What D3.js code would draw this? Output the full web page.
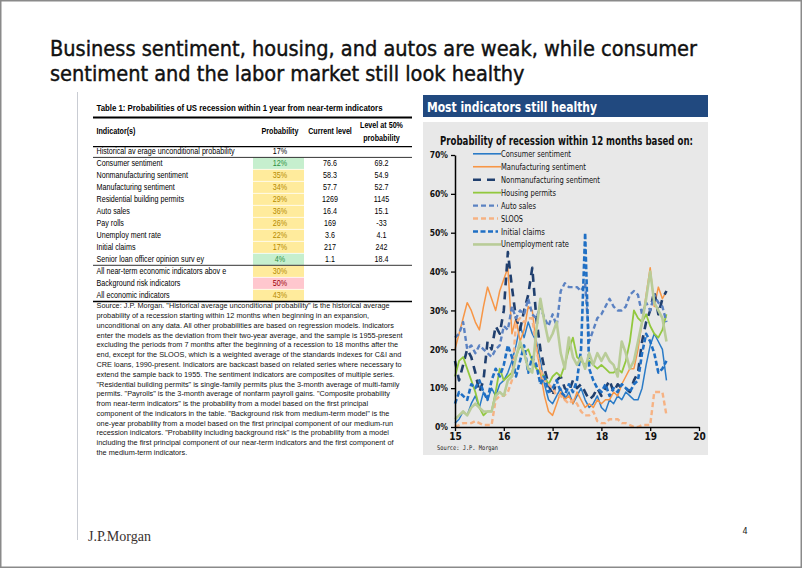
<!DOCTYPE html>
<html><head><meta charset="utf-8">
<script src="https://cdn.jsdelivr.net/npm/d3@7"></script>
<style>
html,body{margin:0;padding:0;background:#fff;}
svg{display:block;}
</style>
</head><body>
<svg id="c" width="802" height="568"></svg>
<script>
// ---------------- DATA ----------------
const slideTitle = ["Business sentiment, housing, and autos are weak, while consumer",
                    "sentiment and the labor market still look healthy"];
const tableTitle = "Table 1: Probabilities of US recession within 1 year from near-term indicators";
const tableHeaders = ["Indicator(s)", "Probability", "Current level", "Level at 50%", "probability"];
const historicalLabel = "Historical av erage unconditional probability";
const historicalProbability = 17;
const indicators = ["Consumer sentiment", "Nonmanufacturing sentiment", "Manufacturing sentiment",
  "Residential building permits", "Auto sales", "Pay rolls", "Unemploy ment rate", "Initial claims",
  "Senior loan officer opinion surv ey"];
const probabilities = [12, 35, 34, 29, 36, 26, 22, 17, 4];
const currentLevels = ["76.6", "58.3", "57.7", "1269", "16.4", "169", "3.6", "217", "1.1"];
const levelsAt50 = ["69.2", "54.9", "52.7", "1145", "15.1", "-33", "4.1", "242", "18.4"];
const summaryRows = ["All near-term economic indicators abov e", "Background risk indicators", "All economic indicators"];
const summaryProbabilities = [30, 50, 43];
const sourceNote = [
  "Source: J.P. Morgan. \"Historical average unconditional probability\" is the historical average",
  "probability of a recession starting within 12 months when beginning in an expansion,",
  "unconditional on any data. All other probabilities are based on regression models. Indicators",
  "enter the models as the deviation from their two-year average, and the sample is 1955-present",
  "excluding the periods from 7 months after the beginning of a recession to 18 months after the",
  "end, except for the SLOOS, which is a weighted average of the standards indexes for C&I and",
  "CRE loans, 1990-present. Indicators are backcast based on related series where necessary to",
  "extend the sample back to 1955. The sentiment indicators are composites of multiple series.",
  "\"Residential building permits\" is single-family permits plus the 3-month average of multi-family",
  "permits. \"Payrolls\" is the 3-month average of nonfarm payroll gains. \"Composite probability",
  "from near-term indicators\" is the probability from a model based on the first principal",
  "component of the indicators in the table. \"Background risk from medium-term model\" is the",
  "one-year probability from a model based on the first principal component of our medium-run",
  "recession indicators. \"Probability including background risk\" is the probability from a model",
  "including the first principal component of our near-term indicators and the first component of",
  "the medium-term indicators."
];

const panelTitle = "Most indicators still healthy";
const chartTitle = "Probability of recession within 12 months based on:";
const chartSource = "Source: J.P. Morgan";
const pageNumber = "4";
const brand = "J.P.Morgan";

// monthly observations, Jan 2015 .. May 2019
const startYear = 2015;
const nMonths = 53;
const seriesNames = ["Consumer sentiment", "Manufacturing sentiment", "Nonmanufacturing sentiment",
  "Housing permits", "Auto sales", "SLOOS", "Initial claims", "Unemployment rate"];
const consumerSentiment = [1,2,4,3,6,8,5,9,7,10,8,11, 12,14,17,21,26,23,27,24,22,17,11,7,
  6,8,10,7,9,6,8,10,7,5,6,8, 5,4,7,6,8,7,9,8,7,7,10,16, 21,24,22,20,12];
const manufacturingSentiment = [20,24,28,32,30,27,25,31,36,33,30,35, 38,41,24,28,22,25,31,30,21,14,8,4,
  3,6,9,7,8,6,9,7,5,6,5,7, 6,7,7,9,8,11,13,15,15,20,27,34, 41,31,36,33,35];
const nonmanufacturingSentiment = [17,12,16,20,18,14,9,12,22,20,26,24, 30,45,36,28,25,30,34,41,28,20,15,11,
  8,12,13,10,9,12,10,11,9,7,8,10, 8,10,12,9,11,10,10,9,12,14,22,27, 30,35,29,33,35];
const housingPermits = [13,17,18,15,12,9,5,3,4,4,9,15, 12,13,14,18,21,19,20,17,15,14,13,11,
  13,14,13,16,20,23,18,17,16,17,16,15, 16,15,14,14,15,14,17,22,30,28,27,29, 26,24,23,25,29];
const autoSales = [23,24,27,20,21,19,21,20,19,18,20,21, 26,25,31,28,30,29,33,29,28,31,28,26,
  29,26,35,37,36,36,36,35,37,22,25,28, 29,31,33,31,30,30,31,34,35,34,29,32, 30,34,32,31,27];
const sloos = [0,0.5,1,1,1,1.5,1,0.5,0.5,0.5,7,8, 8,9,12,27,28,27,28,28,20,15,12,11,
  10,8,8,7,6,7,6,4,3,3,4,1.5, 1,1,2,2,2,1,1,0.5,0,0,0.5,0.5, 0.5,9,9,9,3];
const initialClaims = [6,9,8,7,11,10,12,9,7,12,15,13, 16,21,18,13,17,21,14,18,16,11,13,9,
  10,12,9,8,11,9,12,20,50,15,12,10, 9,11,8,10,9,11,10,9,11,12,19,24, 22,19,14,15,17];
const unemploymentRate = [2,3,4,3,5,6,5,4,4,4,8,9, 8,12,13,18,22,19,15,14,25,33,27,22,
  24,27,19,15,23,18,16,18,15,19,16,19, 17,19,17,16,13,22,19,15,17,22,27,33, 40,32,30,28,22];
const seriesValues = [consumerSentiment, manufacturingSentiment, nonmanufacturingSentiment,
  housingPermits, autoSales, sloos, initialClaims, unemploymentRate];
const yTicks = [0, 10, 20, 30, 40, 50, 60, 70];
const xTicks = [2015, 2016, 2017, 2018, 2019, 2020];
const xTickLabels = ["15", "16", "17", "18", "19", "20"];

// ---------------- STYLES ----------------
const seriesStyles = [
  {color: "#2a7bc7", width: 1.5, dash: null},
  {color: "#f79646", width: 1.5, dash: null},
  {color: "#203f6e", width: 2.6, dash: "8,6"},
  {color: "#92c83e", width: 1.8, dash: null},
  {color: "#5b82c2", width: 2.4, dash: "5,3"},
  {color: "#f6b283", width: 2.4, dash: "5,3"},
  {color: "#1f6fc4", width: 2.6, dash: "5,2.5"},
  {color: "#b9cc98", width: 2.6, dash: null}
];
const TAH = "'DejaVu Sans Condensed','DejaVu Sans',sans-serif";
const ARIAL = "'Liberation Sans',Arial,sans-serif";
const INK = "#000";

const svg = d3.select("#c");

function fitW(sel, w) { return sel.attr("textLength", w).attr("lengthAdjust", "spacingAndGlyphs"); }
function condense(sel, f) {
  sel.each(function () {
    const L = this.getComputedTextLength();
    d3.select(this).attr("textLength", L * f).attr("lengthAdjust", "spacingAndGlyphs");
  });
}

// slide frame
svg.append("rect").attr("x", 0.75).attr("y", 0.75).attr("width", 800.5).attr("height", 566.5)
  .attr("fill", "#fff").attr("stroke", "#8a8a8a").attr("stroke-width", 1.5);
svg.append("line").attr("x1", 77.5).attr("x2", 77.5).attr("y1", 92).attr("y2", 540)
  .attr("stroke", "#c9ccd3").attr("stroke-width", 1);

// slide title
const t1 = svg.append("text").attr("x", 50).attr("y", 56).attr("font-family", TAH)
  .attr("font-size", 21).attr("fill", "#111").attr("stroke", "#111").attr("stroke-width", 0.4).text(slideTitle[0]);
const tl1 = t1.node().getComputedTextLength();
const tf = 647 / tl1;
fitW(t1, 647);
const t2 = svg.append("text").attr("x", 50).attr("y", 81).attr("font-family", TAH)
  .attr("font-size", 21).attr("fill", "#111").attr("stroke", "#111").attr("stroke-width", 0.4).text(slideTitle[1]);
condense(t2, tf);

// ---------------- TABLE ----------------
const tg = svg.append("g").attr("font-family", ARIAL);
const labelX = 96.5, probX = 280, curX = 330, lvlX = 381.5;
const lineX1 = 93, lineX2 = 412;
function ttext(xp, yp, size, str) {
  return tg.append("text").attr("x", xp).attr("y", yp).attr("font-size", size).attr("fill", INK).text(str);
}
const tt = ttext(labelX, 110.5, 9, tableTitle).attr("font-weight", "bold");
fitW(tt, 286);
function hline(y, w) {
  tg.append("line").attr("x1", lineX1).attr("x2", lineX2).attr("y1", y).attr("y2", y)
    .attr("stroke", "#000").attr("stroke-width", w);
}

// calibrate condense factor
const calib = ttext(labelX, 154.3, 8.2, historicalLabel);
const rowF = 138 / calib.node().getComputedTextLength();
fitW(calib, 138);

const hdr = [
  {t: tableHeaders[0], x: labelX, y: 134, a: "start"},
  {t: tableHeaders[1], x: probX, y: 134, a: "middle"},
  {t: tableHeaders[2], x: curX, y: 134, a: "middle"},
  {t: tableHeaders[3], x: lvlX, y: 128, a: "middle"},
  {t: tableHeaders[4], x: lvlX, y: 141, a: "middle"}
];
hdr.forEach(h => {
  const e = ttext(h.x, h.y, 8.2, h.t).attr("font-weight", "bold").attr("text-anchor", h.a);
  condense(e, rowF);
});

function cellStyle(p) {
  if (p < historicalProbability) return {bg: "#c6efce", fg: "#2f8f3f"};
  if (p >= 50) return {bg: "#ffc7ce", fg: "#9c0006"};
  return {bg: "#ffeb9c", fg: "#b58a00"};
}
const probTxt = ttext(probX, 154.3, 8.2, historicalProbability + "%").attr("text-anchor", "middle");
condense(probTxt, rowF);

const rowStep = 12;
const rowY0 = 163.3;
const allRows = indicators.map((d, i) => ({label: d, p: probabilities[i], cur: currentLevels[i], lvl: levelsAt50[i], cy: rowY0 + i * rowStep}))
  .concat(summaryRows.map((d, i) => ({label: d, p: summaryProbabilities[i], cur: null, lvl: null, cy: 271.3 + i * rowStep})));
allRows.forEach(r => {
  const st = cellStyle(r.p);
  tg.append("rect").attr("x", 253).attr("y", r.cy - 5.6).attr("width", 51).attr("height", 11.2).attr("fill", st.bg);
});
hline(117.5, 2);
hline(146.6, 1.3);
hline(157.4, 0.8);
hline(265.3, 0.8);
hline(301.6, 1.5);
allRows.forEach(r => {
  const st = cellStyle(r.p);
  const l = ttext(labelX, r.cy + 3, 8.2, r.label);
  condense(l, rowF);
  const p = ttext(probX, r.cy + 3, 8.2, r.p + "%").attr("text-anchor", "middle").attr("fill", st.fg);
  condense(p, rowF);
  if (r.cur !== null) {
    const c = ttext(curX, r.cy + 3, 8.2, r.cur).attr("text-anchor", "middle");
    condense(c, rowF);
    const v = ttext(lvlX, r.cy + 3, 8.2, r.lvl).attr("text-anchor", "middle");
    condense(v, rowF);
  }
});

// source note
const calibS = ttext(labelX, 0, 7.4, sourceNote[3]);
const srcF = 306 / calibS.node().getComputedTextLength();
calibS.remove();
sourceNote.forEach((s, i) => {
  const e = ttext(labelX, 308.4 + i * 9.77, 7.4, s).attr("fill", "#111");
  condense(e, srcF);
});

// ---------------- RIGHT PANEL ----------------
svg.append("rect").attr("x", 423).attr("y", 95).attr("width", 285).attr("height", 22).attr("fill", "#21497f");
const pt = svg.append("text").attr("x", 427).attr("y", 111.5).attr("font-family", TAH).attr("font-size", 14)
  .attr("font-weight", "bold").attr("fill", "#fff").text(panelTitle);
fitW(pt, 170);
svg.append("rect").attr("x", 423).attr("y", 122).attr("width", 285).attr("height", 333).attr("fill", "#e8e8e8");
const ct = svg.append("text").attr("x", 440).attr("y", 145).attr("font-family", TAH).attr("font-size", 12)
  .attr("font-weight", "bold").attr("fill", "#111").text(chartTitle);
fitW(ct, 253);

const x = d3.scaleLinear().domain([2015, 2020]).range([455, 699]);
const y = d3.scaleLinear().domain([0, 70]).range([427, 155]);
const dates = d3.range(nMonths).map(i => startYear + i / 12);

// legend (drawn under lines)
const leg = svg.append("g");
const legY0 = 153.8, legStep = 12.95;
const legW = [70, 85, 99, 55, 35, 22, 44, 68];
seriesNames.forEach((n, i) => {
  const st = seriesStyles[i];
  const yy = legY0 + i * legStep;
  leg.append("line").attr("x1", 473).attr("x2", st.dash ? 498 : 501).attr("y1", yy).attr("y2", yy)
    .attr("stroke", st.color).attr("stroke-width", st.dash ? 2.4 : Math.max(st.width, 1.6))
    .attr("stroke-dasharray", st.dash);
  const e = leg.append("text").attr("x", 501).attr("y", yy + 3).attr("font-family", TAH)
    .attr("font-size", 8.4).attr("fill", "#111").text(n);
  fitW(e, legW[i]);
});

// series lines
const lineGen = d3.line().x((d, i) => x(dates[i])).y(d => y(d));
seriesValues.forEach((vals, i) => {
  const st = seriesStyles[i];
  svg.append("path").datum(vals).attr("d", lineGen).attr("fill", "none")
    .attr("stroke", st.color).attr("stroke-width", st.width)
    .attr("stroke-dasharray", st.dash).attr("stroke-linejoin", "round");
});

// axes
const yAxis = svg.append("g").attr("transform", "translate(455,0)")
  .call(d3.axisLeft(y).tickValues(yTicks).tickSize(4).tickSizeOuter(0).tickPadding(3).tickFormat(d => d + "%"));
const xAxis = svg.append("g").attr("transform", "translate(0,427)")
  .call(d3.axisBottom(x).tickValues(xTicks).tickSize(4).tickSizeOuter(0).tickPadding(2)
    .tickFormat((d, i) => xTickLabels[i]));
[yAxis, xAxis].forEach(a => {
  a.select(".domain").attr("stroke", "#000").attr("stroke-width", 1.5);
  a.selectAll(".tick line").attr("stroke", "#000").attr("stroke-width", 1.3);
  a.selectAll("text").attr("font-family", TAH).attr("font-weight", "bold").attr("fill", "#111");
});
yAxis.selectAll("text").attr("font-size", 8.5);
xAxis.selectAll("text").attr("font-size", 10);

const cs = svg.append("text").attr("x", 437).attr("y", 450).attr("font-family", "'DejaVu Sans Mono',monospace")
  .attr("font-size", 6.5).attr("fill", "#222").text(chartSource);
fitW(cs, 61);

// footer
svg.append("text").attr("x", 745).attr("y", 534).attr("font-family", TAH).attr("font-size", 9)
  .attr("fill", "#222").attr("text-anchor", "middle").text(pageNumber);
const br = svg.append("text").attr("x", 88).attr("y", 541).attr("font-family", "'Liberation Serif','DejaVu Serif',serif")
  .attr("font-size", 14.5).attr("fill", "#3a3230").text(brand);
fitW(br, 63);
</script>
</body></html>
